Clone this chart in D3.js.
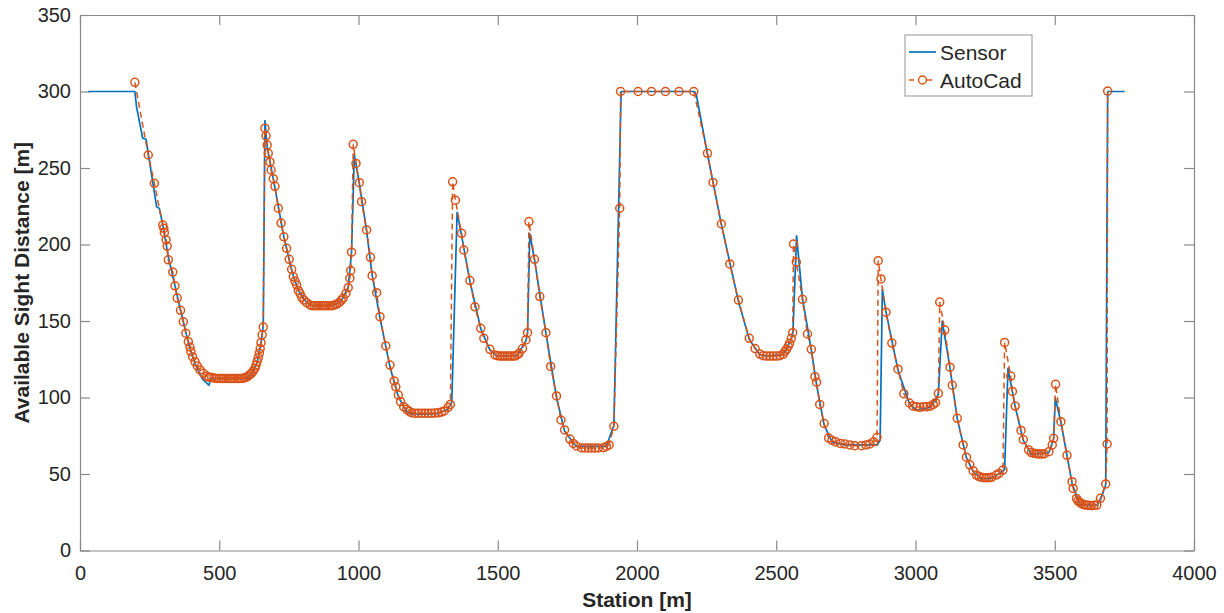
<!DOCTYPE html>
<html>
<head>
<meta charset="utf-8">
<script src="https://cdn.jsdelivr.net/npm/d3@7"></script>
<style>
  html, body { margin: 0; padding: 0; background: #fff; }
  svg { display: block; font-family: "Liberation Sans", Arial, Helvetica, sans-serif; }
</style>
</head>
<body>
<svg id="chart" width="1224" height="613"></svg>
<script>
// ---- data ----
const xTicks = [0, 500, 1000, 1500, 2000, 2500, 3000, 3500, 4000];
const yTicks = [0, 50, 100, 150, 200, 250, 300, 350];
const seriesNames = ["Sensor", "AutoCad"];

const sensorStation = [30,197,203,225,237,275,285,297,317,341,361,389,413,440,463,470,490,600,616,636,650,658,664,672,700,732,760,784,814,834,906,938,963,975,985,1003,1029,1049,1077,1113,1143,1173,1191,1286,1322,1335,1354,1370,1400,1439,1472,1499,1570,1601,1607,1615,1632,1673,1711,1740,1782,1890,1917,1943,2206,2213,2253,2303,2364,2403,2441,2465,2525,2554,2560,2573,2594,2626,2645,2672,2700,2746,2862,2873,2881,2894,2937,2978,3003,3053,3082,3096,3124,3150,3183,3207,3237,3273,3314,3320,3332,3358,3387,3416,3479,3496,3502,3522,3562,3590,3651,3664,3683,3690,3751];
const sensorASD = [300,300,290,269.5,268.8,224.7,223.6,213,192,173,157,136,122,112,108,112,112.5,112.5,115.5,123,135.5,147,281,264,237,205,183,170,162,160,160,163,172,195,258.5,240,209,180,152,120,100.5,91,89,89.5,92.5,97,221,206,176,145,131,127,127.5,137,142,207,190,142,100,78,68,68,82,300,300,298,259,213,163,138,128,127,128,138,143,205.6,165,131,108,82,71,69,69,72,170.7,156,118,96,91.8,93.5,102,150,119,86,60.5,51.5,47,47.2,52,53,119,94,72,63,64,73,99.5,84,44,30,29.5,33,43,300,300];

const autocadStation = [197,245,267,297,301,303,309,313,317,333,341,349,361,371,380,389,395,398,404,413,421,431,443,455,463,473,482,491,500,508,516,524,532,540,548,556,564,572,580,588,596,604,610,616,622,628,632,636,640,644,647,650,654,658,
664,668,672,676,682,686,694,700,712,722,732,742,751,760,766,772,778,784,790,796,804,814,826,834,842,850,858,866,874,882,890,898,906,914,922,930,938,945,955,963,969,972,975,
981,991,1003,1011,1029,1043,1049,1065,1077,1098,1113,1128,1134,1143,1151,1162,1173,1182,1191,1203,1215,1227,1238,1250,1262,1274,1286,1298,1308,1322,1330,
1338,1348,1370,1378,1400,1418,1439,1450,1472,1490,1499,1508,1516,1525,1534,1543,1552,1561,1570,1577,1589,1601,1607,
1612,1632,1651,1673,1690,1711,1727,1740,1759,1771,1782,1801,1813,1825,1837,1849,1861,1879,1890,1900,1917,1938,
1941,2004,2052,2102,2151,2204,
2253,2273,2303,2333,2364,2403,2424,2441,2453,2465,2477,2489,2501,2513,2525,2531,2537,2543,2548,2554,2559,
2562,2572,2594,2612,2626,2639,2645,2656,2672,2688,2700,2713,2730,2746,2764,2782,2806,2822,2836,2850,2862,
2866,2876,2894,2915,2937,2958,2978,2990,3003,3016,3029,3041,3053,3064,3072,3082,
3087,3105,3124,3132,3150,3171,3183,3195,3207,3219,3228,3237,3246,3255,3264,3273,3290,3300,3314,
3320,3342,3348,3358,3379,3387,3406,3416,3426,3435,3444,3453,3462,3479,3491,3496,
3503,3522,3544,3562,3566,3578,3583,3590,3595,3603,3611,3621,3631,3641,3651,3664,3683,3688,3690];
const autocadASD = [306,258.5,240,212.7,210.6,207.7,203,199,190,182,173,165,157,149.5,142,136.5,133,130,126.7,123.4,120.6,118,115.8,114,113.2,113,112.7,112.5,112.5,112.5,112.5,112.5,112.5,112.5,112.5,112.5,112.5,112.5,112.5,112.7,113.2,114,115,115.8,117.3,119,121,123.4,126,129,132,135.8,141,146,
276,271,265,259.6,254,248.7,243,238,223.7,214,205,197.5,190.3,183.8,179,176,173.5,170,168,165.5,163.7,162,160.5,160,160,160,160,160,160,160,160,160,160,160.5,161,162,163.5,165,168,171.8,178,183,195,
265.5,253,240.4,228,209.5,191.6,179.6,168.5,152.8,133.7,121.2,110.8,107,101.6,97.3,94,92.3,91,90,89.7,89.7,89.7,89.7,89.7,89.7,89.8,90,90.5,91.2,93.6,95.5,
241,229,207.3,196.4,176.4,159.3,145.2,138.7,131.5,127.8,127.3,127.1,127.1,127.1,127.1,127.1,127.1,127.1,127.8,128.9,132,137.6,142.4,
215,190.3,166,142.4,120.3,101,85.3,78.8,72.8,70,68.3,67,67,67,67,67,67,67.2,68,69,81.2,223.7,
300,300,300,300,300,300,
259.6,240.6,213.4,187.3,163.7,138.7,132,128.4,127.3,127.1,127.1,127.1,127.1,127.3,128.2,130,131.5,133.5,135.4,138.7,142.4,
200.3,188.5,164.2,141.5,131.5,113.6,110,95.5,83,73.5,72,71,70,69.6,69,68.5,68.5,69,69.6,71.1,74,
189.4,177.5,155.8,135.6,118.5,102.5,96.4,94.5,94,93.6,94,94,94.3,95.5,96.6,102.7,
162.4,144.1,119.8,108,86.4,69,61,56,52.2,49.3,48.3,47.8,47.6,47.6,47.6,47.8,49.3,50.4,52.6,
136,114,104,94.4,78.5,72.5,65.7,64,63.5,63.2,63.1,63.1,63.2,64.6,69,73.3,
108.6,84.2,62.2,45,40.6,34,32.5,31.5,30.8,30,29.7,29.5,29.3,29.5,29.7,34.1,43.5,69.6,300.3];

// ---- layout ----
const svg = d3.select("#chart");
const colSensor = "#0072BD", colAuto = "#D95319";
const x = d3.scaleLinear().domain([0, 4000]).range([80, 1194]);
const y = d3.scaleLinear().domain([0, 350]).range([550.5, 15]);
const axisColor = "#8a8a8a", textColor = "#262626";

function styleAxis(g) {
  g.selectAll("path.domain").attr("stroke", axisColor).attr("stroke-width", 1.2);
  g.selectAll(".tick line").attr("stroke", axisColor).attr("stroke-width", 1.2);
  g.selectAll(".tick text").attr("fill", textColor).style("font-size", "20px")
    .style("font-family", '"Liberation Sans", Arial, sans-serif');
}

svg.append("g").attr("transform", `translate(0,${y(0)})`)
  .call(d3.axisBottom(x).tickValues(xTicks).tickSizeInner(-10).tickSizeOuter(0).tickPadding(15).tickFormat(d3.format("d")))
  .call(styleAxis);
svg.append("g").attr("transform", `translate(0,${y(350)})`)
  .call(d3.axisTop(x).tickValues(xTicks).tickSizeInner(-10).tickSizeOuter(0).tickFormat(""))
  .call(styleAxis);
svg.append("g").attr("transform", `translate(${x(0)},0)`)
  .call(d3.axisLeft(y).tickValues(yTicks).tickSizeInner(-10).tickSizeOuter(0).tickPadding(9).tickFormat(d3.format("d")))
  .call(styleAxis);
svg.append("g").attr("transform", `translate(${x(4000)},0)`)
  .call(d3.axisRight(y).tickValues(yTicks).tickSizeInner(-10).tickSizeOuter(0).tickFormat(""))
  .call(styleAxis);

// axis titles
svg.append("text").attr("x", (x(0) + x(4000)) / 2).attr("y", 607)
  .attr("text-anchor", "middle").attr("font-weight", "bold").attr("font-size", 21).attr("fill", textColor)
  .text("Station [m]");
svg.append("text").attr("transform", `translate(29,${(y(0) + y(350)) / 2}) rotate(-90)`)
  .attr("text-anchor", "middle").attr("font-weight", "bold").attr("font-size", 21).attr("fill", textColor)
  .text("Available Sight Distance [m]");

// ---- series ----
const sensorData = sensorStation.map((s, i) => [s, sensorASD[i]]);
const autoData = autocadStation.map((s, i) => [s, autocadASD[i]]);
const line = d3.line().x(d => x(d[0])).y(d => y(d[1]));

svg.append("path").datum(sensorData).attr("d", line)
  .attr("fill", "none").attr("stroke", colSensor).attr("stroke-width", 1.7).attr("stroke-linejoin", "round");

svg.append("path").datum(autoData).attr("d", line)
  .attr("fill", "none").attr("stroke", colAuto).attr("stroke-width", 1.5).attr("stroke-dasharray", "6,4");

svg.append("g").selectAll("circle").data(autoData).join("circle")
  .attr("cx", d => x(d[0])).attr("cy", d => y(d[1])).attr("r", 4)
  .attr("fill", "none").attr("stroke", colAuto).attr("stroke-width", 1.5);

// ---- legend ----
const lg = svg.append("g");
lg.append("rect").attr("x", 905).attr("y", 35).attr("width", 127).attr("height", 61)
  .attr("fill", "#fff").attr("stroke", "#a6a6a6").attr("stroke-width", 1.2);
lg.append("line").attr("x1", 909).attr("x2", 936).attr("y1", 52).attr("y2", 52)
  .attr("stroke", colSensor).attr("stroke-width", 1.7);
lg.append("text").attr("x", 940).attr("y", 59.5).attr("font-size", 21).attr("fill", textColor).text(seriesNames[0]);
lg.append("line").attr("x1", 909).attr("x2", 936).attr("y1", 80).attr("y2", 80)
  .attr("stroke", colAuto).attr("stroke-width", 1.5).attr("stroke-dasharray", "5,4");
lg.append("circle").attr("cx", 922.5).attr("cy", 80).attr("r", 4)
  .attr("fill", "#fff").attr("stroke", colAuto).attr("stroke-width", 1.5);
lg.append("text").attr("x", 940).attr("y", 87.5).attr("font-size", 21).attr("fill", textColor).text(seriesNames[1]);
</script>
</body>
</html>
